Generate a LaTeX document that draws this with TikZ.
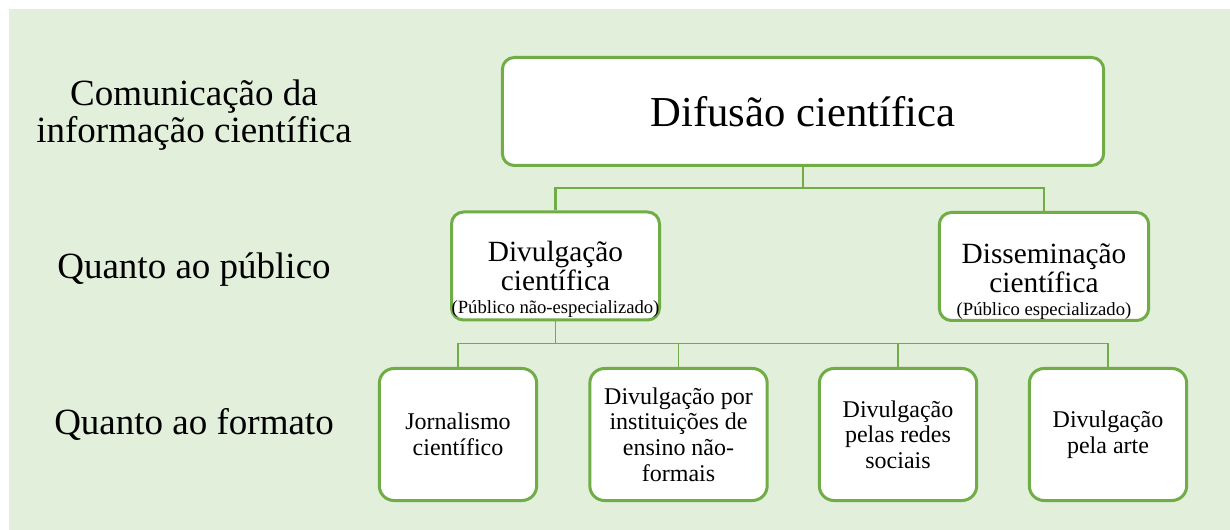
\documentclass[tikz,border=0pt]{standalone}
\usepackage{fontspec}
\setmainfont{Liberation Serif}
\usetikzlibrary{calc}
\definecolor{bggreen}{HTML}{E2EFDA}
\definecolor{edgegreen}{HTML}{70AD47}
\begin{document}
\begin{tikzpicture}[x=0.75pt,y=-0.75pt,
  box/.style={draw=edgegreen, line width=2.25pt, fill=white, rounded corners=9pt, inner sep=0pt, align=center},
  lowbox/.style={box, rounded corners=11pt, minimum width=118pt, minimum height=99pt,
    font=\fontsize{18pt}{19.25pt}\selectfont},
  midtext/.style={align=center, inner sep=0pt, font=\fontsize{22pt}{22pt}\selectfont},
  sidelabel/.style={align=center, inner sep=0pt, font=\fontsize{27.75pt}{27.75pt}\selectfont},
  connA/.style={draw=edgegreen, line width=1.75pt},
  connB/.style={draw=edgegreen, line width=1pt}
]
\useasboundingbox (0,0) rectangle (1230,530);
\fill[bggreen] (9,9) rectangle (1230,530);

% left labels
\node[sidelabel] (l1) at (194,115.5) {Comunicação da\\informação científica};
\node[sidelabel, anchor=base] (l2) at (194,279) {Quanto ao público};
\node[sidelabel, anchor=base] (l3) at (194,434) {Quanto ao formato};

% top
\node[box, minimum width=451pt, minimum height=81pt, font=\fontsize{32pt}{36pt}\selectfont] (top) at (803,111.5) {Difusão científica};

% middle
\node[box, minimum width=156pt, minimum height=81pt] (midL) at (555.5,266) {};
\node[midtext] (midLt) at (555.5,279) {Divulgação\\científica\\[-5pt]{\fontsize{14pt}{16pt}\selectfont (Público não-especializado)}};
\node[box, minimum width=157pt, minimum height=81pt] (midR) at (1044,266.5) {};
\node[midtext] (midRt) at (1044,281.5) {Disseminação\\científica\\[-5pt]{\fontsize{14pt}{16pt}\selectfont (Público especializado)}};

% bottom
\node[lowbox] (b1) at (458,434.5) {Jornalismo\\científico};
\node[lowbox, minimum width=133pt] (b2) at (678.5,434.5) {Divulgação por\\instituições de\\ensino não-\\formais};
\node[lowbox] (b3) at (898,434.5) {Divulgação\\pelas redes\\sociais};
\node[lowbox] (b4) at (1108,434.5) {Divulgação\\pela arte};

% connectors
\coordinate (j1) at ($(top.south)+(0,21)$);
\draw[connA] (top.south) -- (j1) -| (midL.north);
\draw[connA] (j1) -| (midR.north);
\coordinate (j2) at ($(midL.south)+(0,22)$);
\draw[connB] (midL.south) -- (j2) -| (b1.north);
\draw[connB] (j2) -| (b2.north);
\draw[connB] (j2) -| (b3.north);
\draw[connB] (j2) -| (b4.north);
\end{tikzpicture}
\end{document}
